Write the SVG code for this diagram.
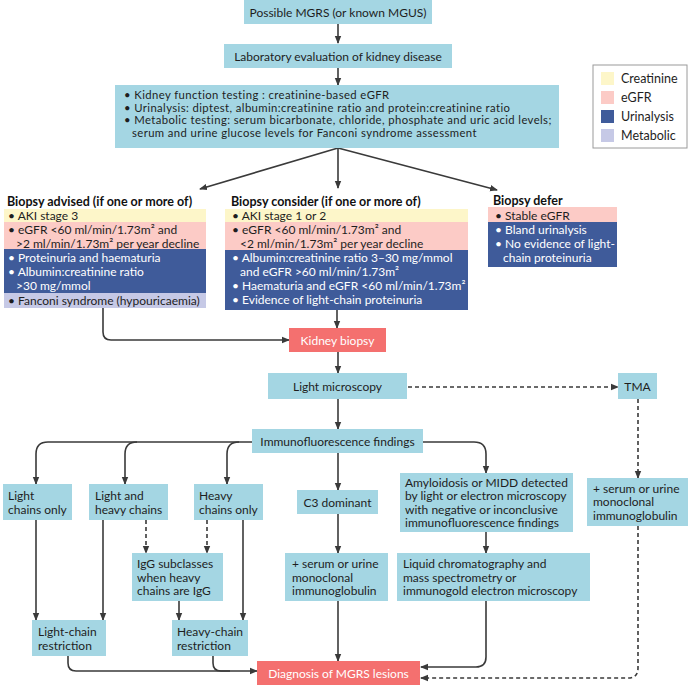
<svg xmlns="http://www.w3.org/2000/svg" width="696" height="685" viewBox="0 0 696 685">
<defs>
<style>
text{font-family:Lato,"Noto Sans",sans-serif;font-size:12px;fill:#1e1e1e}
.b{fill:#a4d6e3}
.s{fill:#f4706f}
.y{fill:#fdf6c9}
.p{fill:#fccbc6}
.d{fill:#3f5b9a}
.l{fill:#c6c9e6}
.w{fill:#ffffff}
.t{font-weight:bold;font-size:12.5px;fill:#111}
.sm{font-size:11.3px;letter-spacing:0.4px}
.lg{font-size:12.5px}
.c{text-anchor:middle}
.ln{fill:none;stroke:#3a3a3a;stroke-width:1.6}
.ds{stroke-dasharray:4 3}
</style>
<marker id="ah" markerUnits="userSpaceOnUse" markerWidth="8" markerHeight="8" viewBox="0 0 8 8" refX="7" refY="4" orient="auto">
<path d="M0,0.8 L8,4 L0,7.2 Z" fill="#3a3a3a"/>
</marker>
</defs>
<rect width="696" height="685" fill="#ffffff"/>

<g id="connectors">
<path class="ln" d="M338,24 V43" marker-end="url(#ah)"/>
<path class="ln" d="M338,68 V85" marker-end="url(#ah)"/>
<path class="ln" d="M338,148 L200,189" marker-end="url(#ah)"/>
<path class="ln" d="M338,148 V188" marker-end="url(#ah)"/>
<path class="ln" d="M338,148 L497,190" marker-end="url(#ah)"/>
<path class="ln" d="M337,310 V328" marker-end="url(#ah)"/>
<path class="ln" d="M103,308 V332 Q103,340 111,340 H289" marker-end="url(#ah)"/>
<path class="ln" d="M338,352 V373" marker-end="url(#ah)"/>
<path class="ln ds" d="M408,387 H618" marker-end="url(#ah)"/>
<path class="ln" d="M338,399 V429" marker-end="url(#ah)"/>
<path class="ln ds" d="M638,399 V478" marker-end="url(#ah)"/>
<path class="ln" d="M252,442 H48 Q36,442 36,454 V484" marker-end="url(#ah)"/>
<path class="ln" d="M137,442 Q125,442 125,454 V484" marker-end="url(#ah)"/>
<path class="ln" d="M239,442 Q227,442 227,454 V484" marker-end="url(#ah)"/>
<path class="ln" d="M423,442 H474 Q486,442 486,454 V473" marker-end="url(#ah)"/>
<path class="ln" d="M338,453 V490" marker-end="url(#ah)"/>
<path class="ln" d="M36,520 V620" marker-end="url(#ah)"/>
<path class="ln" d="M103,520 V620" marker-end="url(#ah)"/>
<path class="ln ds" d="M146,520 V553" marker-end="url(#ah)"/>
<path class="ln ds" d="M207,520 V553" marker-end="url(#ah)"/>
<path class="ln" d="M243,520 V620" marker-end="url(#ah)"/>
<path class="ln" d="M179,601 V620" marker-end="url(#ah)"/>
<path class="ln" d="M338,514 V553" marker-end="url(#ah)"/>
<path class="ln" d="M338,601 V661" marker-end="url(#ah)"/>
<path class="ln" d="M486,532 V553" marker-end="url(#ah)"/>
<path class="ln" d="M486,601 V657 Q486,667 476,667 H421" marker-end="url(#ah)"/>
<path class="ln ds" d="M638,526 V668 Q638,678 628,678 H421" marker-end="url(#ah)"/>
<path class="ln" d="M68,656 V663 Q68,671 76,671 H257" marker-end="url(#ah)"/>
<path class="ln" d="M213,656 V663 Q213,671 221,671 H230"/>
</g>

<g id="n-start"><rect class="b" x="244" y="0" width="188" height="24"/><text class="c" x="338" y="16.5">Possible MGRS (or known MGUS)</text></g>
<g id="n-lab"><rect class="b" x="224" y="44" width="228" height="24"/><text class="c" x="338" y="60.5">Laboratory evaluation of kidney disease</text></g>
<g id="n-tests"><rect class="b" x="115" y="85" width="444" height="63"/>
<text class="sm" x="124" y="99">• Kidney function testing : creatinine-based eGFR</text>
<text class="sm" x="124" y="111.5">• Urinalysis: diptest, albumin:creatinine ratio and protein:creatinine ratio</text>
<text class="sm" x="124" y="124">• Metabolic testing: serum bicarbonate, chloride, phosphate and uric acid levels;</text>
<text class="sm" x="132" y="136.5">serum and urine glucose levels for Fanconi syndrome assessment</text>
</g>

<g id="legend">
<rect x="593" y="65" width="94" height="83" fill="#fff" stroke="#9a9a9a" stroke-width="1"/>
<rect class="y" x="601" y="72" width="13" height="13"/><text class="lg" x="621" y="83">Creatinine</text>
<rect class="p" x="601" y="91" width="13" height="13"/><text class="lg" x="621" y="102">eGFR</text>
<rect class="d" x="601" y="110" width="13" height="13"/><text class="lg" x="621" y="121">Urinalysis</text>
<rect class="l" x="601" y="129" width="13" height="13"/><text class="lg" x="621" y="140">Metabolic</text>
</g>

<g id="n-advised">
<text class="t" x="7" y="206">Biopsy advised (if one or more of)</text>
<rect class="y" x="4" y="209" width="202" height="13"/>
<rect class="p" x="4" y="222" width="202" height="27"/>
<rect class="d" x="4" y="249" width="202" height="44"/>
<rect class="l" x="4" y="293" width="202" height="15"/>
<text x="8" y="219.5">• AKI stage 3</text>
<text x="8" y="233.5">• eGFR &lt;60 ml/min/1.73m² and</text>
<text x="16" y="247.5">&gt;2 ml/min/1.73m² per year decline</text>
<text class="w" x="8" y="262">• Proteinuria and haematuria</text>
<text class="w" x="8" y="276">• Albumin:creatinine ratio</text>
<text class="w" x="16" y="290">&gt;30 mg/mmol</text>
<text x="8" y="304.5">• Fanconi syndrome (hypouricaemia)</text>
</g>

<g id="n-consider">
<text class="t" x="231" y="206">Biopsy consider (if one or more of)</text>
<rect class="y" x="225" y="209" width="243" height="13"/>
<rect class="p" x="225" y="222" width="243" height="28"/>
<rect class="d" x="225" y="250" width="243" height="60"/>
<text x="232" y="219.5">• AKI stage 1 or 2</text>
<text x="232" y="233.5">• eGFR &lt;60 ml/min/1.73m² and</text>
<text x="240" y="247.5">&lt;2 ml/min/1.73m² per year decline</text>
<text class="w" x="232" y="262">• Albumin:creatinine ratio 3–30 mg/mmol</text>
<text class="w" x="240" y="276">and eGFR &gt;60 ml/min/1.73m²</text>
<text class="w" x="232" y="290">• Haematuria and eGFR &lt;60 ml/min/1.73m²</text>
<text class="w" x="232" y="304">• Evidence of light-chain proteinuria</text>
</g>

<g id="n-defer">
<text class="t" x="493" y="205">Biopsy defer</text>
<rect class="p" x="488" y="207" width="129" height="15"/>
<rect class="d" x="488" y="222" width="129" height="45"/>
<text x="495" y="219.5">• Stable eGFR</text>
<text class="w" x="495" y="233.5">• Bland urinalysis</text>
<text class="w" x="495" y="247.5">• No evidence of light-</text>
<text class="w" x="503" y="261.5">chain proteinuria</text>
</g>

<g id="n-biopsy"><rect class="s" x="289" y="328" width="97" height="24"/><text class="c w" x="337.5" y="344.5">Kidney biopsy</text></g>
<g id="n-lm"><rect class="b" x="268" y="373" width="139" height="26"/><text class="c" x="337.5" y="390.5">Light microscopy</text></g>
<g id="n-tma"><rect class="b" x="618" y="373" width="39" height="26"/><text class="c" x="637.5" y="390.5">TMA</text></g>
<g id="n-if"><rect class="b" x="252" y="429" width="171" height="24"/><text class="c" x="337.5" y="445.5">Immunofluorescence findings</text></g>

<g id="n-lco"><rect class="b" x="3" y="484" width="69" height="36"/><text x="8" y="500">Light</text><text x="8" y="513.5">chains only</text></g>
<g id="n-lhc"><rect class="b" x="89" y="484" width="79" height="36"/><text x="95" y="500">Light and</text><text x="95" y="513.5">heavy chains</text></g>
<g id="n-hco"><rect class="b" x="194" y="484" width="69" height="36"/><text x="199" y="500">Heavy</text><text x="199" y="513.5">chains only</text></g>
<g id="n-c3"><rect class="b" x="297" y="490" width="81" height="24"/><text class="c" x="337.5" y="506.5">C3 dominant</text></g>
<g id="n-amy"><rect class="b" x="400" y="473" width="173" height="59"/>
<text x="405" y="486.5">Amyloidosis or MIDD detected</text>
<text x="405" y="500">by light or electron microscopy</text>
<text x="405" y="513.5">with negative or inconclusive</text>
<text x="405" y="527">immunofluorescence findings</text>
</g>
<g id="n-tma-mig"><rect class="b" x="587" y="478" width="101" height="48"/>
<text x="593" y="492.5">+ serum or urine</text>
<text x="593" y="506">monoclonal</text>
<text x="593" y="519.5">immunoglobulin</text>
</g>

<g id="n-igg"><rect class="b" x="132" y="553" width="91" height="48"/>
<text x="137" y="568">IgG subclasses</text>
<text x="137" y="581.5">when heavy</text>
<text x="137" y="595">chains are IgG</text>
</g>
<g id="n-c3-mig"><rect class="b" x="285" y="553" width="103" height="48"/>
<text x="292" y="568">+ serum or urine</text>
<text x="292" y="581.5">monoclonal</text>
<text x="292" y="595">immunoglobulin</text>
</g>
<g id="n-lc"><rect class="b" x="397" y="553" width="193" height="48"/>
<text x="403" y="568">Liquid chromatography and</text>
<text x="403" y="581.5">mass spectrometry or</text>
<text x="403" y="595">immunogold electron microscopy</text>
</g>

<g id="n-lcr"><rect class="b" x="32" y="620" width="74" height="36"/><text x="38" y="636">Light-chain</text><text x="38" y="649.5">restriction</text></g>
<g id="n-hcr"><rect class="b" x="172" y="620" width="76" height="36"/><text x="177" y="636">Heavy-chain</text><text x="177" y="649.5">restriction</text></g>

<g id="n-diag"><rect class="s" x="257" y="661" width="163" height="24"/><text class="c w" x="338.5" y="677.5">Diagnosis of MGRS lesions</text></g>
</svg>
